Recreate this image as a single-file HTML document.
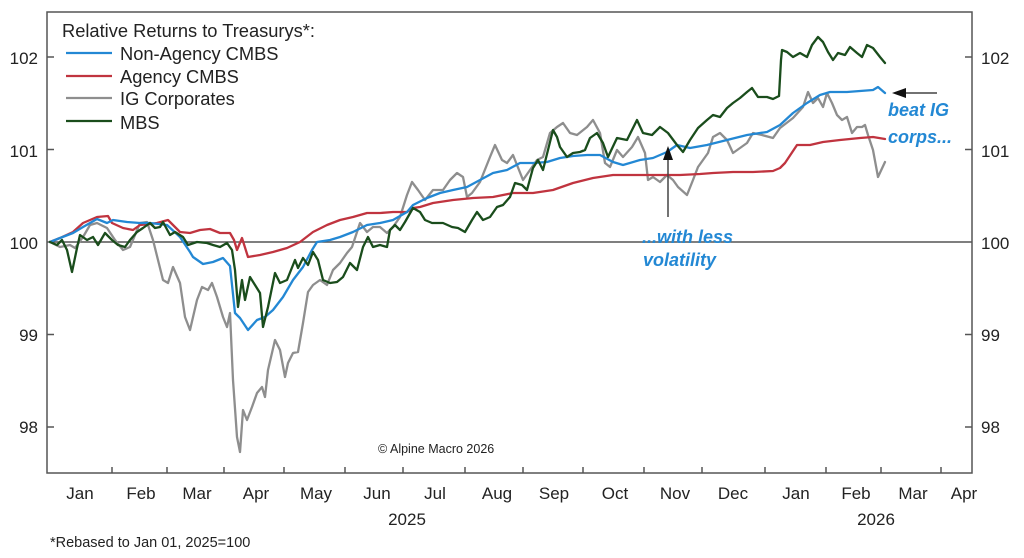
<!DOCTYPE html>
<html>
<head>
<meta charset="utf-8">
<style>
html,body{margin:0;padding:0;background:#fff;}
svg{display:block;font-family:"Liberation Sans",Arial,sans-serif;}
</style>
</head>
<body>
<svg width="1024" height="558" viewBox="0 0 1024 558" xmlns="http://www.w3.org/2000/svg">
<rect width="1024" height="558" fill="#fff"/>

<!-- zero line -->
<line x1="47" y1="242" x2="972" y2="242" stroke="#555" stroke-width="1.5"/>

<!-- series -->
<g fill="none" stroke-width="2.3" stroke-linejoin="round" stroke-linecap="round">
<polyline stroke="#8e8e8e" points="50,242 60,247 70,245 75,248 83,237 90,225 97,223 107,228 115,240 123,250 130,247 140,223 147,222 153,240 163,280 168,283 173,267 180,283 185,317 190,330 197,300 202,287 208,290 212,283 217,297 223,317 227,327 230,313 233,380 237,437 240,452 243,410 247,420 252,407 257,393 262,387 265,397 268,370 275,340 280,350 285,377 288,363 293,353 298,352 303,323 308,292 313,285 320,280 327,285 333,270 340,263 347,253 352,247 355,238 360,223 367,232 373,227 380,227 387,233 393,227 400,217 407,195 412,182 418,190 425,200 433,190 443,190 450,180 457,173 463,177 467,197 472,193 480,182 490,157 495,145 502,160 507,163 513,155 523,180 530,170 537,160 543,157 550,133 557,127 563,123 570,133 577,135 587,127 593,120 600,133 605,163 610,167 617,150 623,157 632,147 638,137 645,153 648,180 653,177 660,182 667,175 673,180 678,187 687,195 693,180 698,167 703,160 708,153 713,137 720,133 727,140 733,153 740,148 747,143 753,133 762,135 773,138 780,128 793,118 803,107 808,92 813,103 818,98 823,107 827,93 832,103 837,115 842,120 847,117 852,133 857,127 862,127 865,125 868,135 873,150 878,177 885,162"/>
<polyline stroke="#c0343f" points="50,242 60,238 73,232 83,223 90,220 97,217 108,216 112,223 123,228 133,230 140,225 150,224 157,223 168,220 173,225 180,232 190,233 200,230 210,229 220,233 230,233 234,240 237,250 242,238 248,257 260,255 273,252 287,248 300,242 313,232 327,225 340,220 353,217 367,213 380,213 393,212 407,212 413,208 420,207 433,203 453,200 473,198 493,197 513,193 533,193 553,190 573,183 593,178 613,175 633,175 653,175 680,175 700,174 713,173 733,172 753,172 773,171 780,168 785,163 797,145 810,145 823,142 840,140 860,138 873,137 885,139"/>
<polyline stroke="#2388d4" points="50,242 60,238 73,233 83,227 97,219 107,223 113,220 127,222 140,223 150,223 167,225 180,237 190,252 193,257 203,264 213,262 223,258 230,266 235,313 240,318 248,330 257,320 265,317 273,310 283,297 293,280 303,267 312,250 317,242 330,240 340,237 353,232 367,225 380,223 393,220 407,212 413,205 427,198 440,193 453,190 467,187 480,180 493,173 507,170 520,163 533,163 547,162 560,158 573,156 587,155 600,155 613,162 623,165 640,160 653,158 667,152 677,145 690,148 707,145 727,140 747,135 767,132 780,125 793,113 807,103 820,95 830,92 847,92 860,91 873,90 878,87 885,93"/>
<polyline stroke="#1a4d1c" points="50,242 57,245 62,240 67,250 72,272 77,248 80,235 87,240 93,237 98,245 105,233 112,240 118,245 125,247 130,240 137,232 143,228 150,223 155,228 160,227 163,222 170,235 175,232 183,237 188,245 197,242 207,243 213,245 220,247 227,243 232,250 235,270 238,307 242,280 245,300 250,277 255,285 260,293 263,327 268,307 275,273 280,283 287,280 295,260 298,268 303,258 308,265 313,252 318,260 323,280 330,283 337,282 343,277 350,263 357,270 363,247 368,237 373,247 380,245 387,247 390,230 395,225 400,230 405,222 413,208 420,212 425,220 432,223 443,223 452,227 458,228 465,232 472,220 477,212 483,220 490,217 497,207 503,205 510,197 515,183 522,185 527,190 533,168 538,160 543,170 548,150 553,130 557,137 560,147 567,157 573,153 580,152 585,150 590,138 597,133 603,143 608,157 617,138 627,140 637,120 643,133 652,135 660,127 668,133 677,145 683,152 690,140 698,128 707,120 713,115 720,117 727,108 733,103 740,98 747,92 752,88 758,97 767,97 773,99 779,96 781,60 782,50 787,52 793,57 800,53 807,57 812,45 818,37 823,42 828,52 833,60 838,53 845,55 850,47 857,53 862,57 867,45 873,48 880,57 885,63"/>
</g>

<!-- frame -->
<rect x="47" y="12" width="925" height="461" fill="none" stroke="#555" stroke-width="1.5"/>

<!-- y ticks -->
<g stroke="#555" stroke-width="1.5">
<line x1="47" y1="57" x2="54" y2="57"/><line x1="47" y1="149.5" x2="54" y2="149.5"/><line x1="47" y1="334.5" x2="54" y2="334.5"/><line x1="47" y1="427" x2="54" y2="427"/>
<line x1="965" y1="57" x2="972" y2="57"/><line x1="965" y1="149.5" x2="972" y2="149.5"/><line x1="965" y1="334.5" x2="972" y2="334.5"/><line x1="965" y1="427" x2="972" y2="427"/>
<!-- x ticks -->
<line x1="112" y1="473" x2="112" y2="467"/><line x1="167" y1="473" x2="167" y2="467"/><line x1="224" y1="473" x2="224" y2="467"/><line x1="284" y1="473" x2="284" y2="467"/><line x1="345" y1="473" x2="345" y2="467"/><line x1="403" y1="473" x2="403" y2="467"/><line x1="465" y1="473" x2="465" y2="467"/><line x1="523" y1="473" x2="523" y2="467"/><line x1="583" y1="473" x2="583" y2="467"/><line x1="644" y1="473" x2="644" y2="467"/><line x1="702" y1="473" x2="702" y2="467"/><line x1="765" y1="473" x2="765" y2="467"/><line x1="826" y1="473" x2="826" y2="467"/><line x1="881" y1="473" x2="881" y2="467"/><line x1="941" y1="473" x2="941" y2="467"/>
</g>

<!-- y labels -->
<g font-size="17" fill="#222">
<text x="38" y="64" text-anchor="end">102</text>
<text x="38" y="157" text-anchor="end">101</text>
<text x="38" y="249" text-anchor="end">100</text>
<text x="38" y="341" text-anchor="end">99</text>
<text x="38" y="433" text-anchor="end">98</text>
<text x="981" y="64">102</text>
<text x="981" y="157">101</text>
<text x="981" y="249">100</text>
<text x="981" y="341">99</text>
<text x="981" y="433">98</text>
</g>

<!-- x labels -->
<g font-size="17" fill="#222" text-anchor="middle">
<text x="80" y="499">Jan</text>
<text x="141" y="499">Feb</text>
<text x="197" y="499">Mar</text>
<text x="256" y="499">Apr</text>
<text x="316" y="499">May</text>
<text x="377" y="499">Jun</text>
<text x="435" y="499">Jul</text>
<text x="497" y="499">Aug</text>
<text x="554" y="499">Sep</text>
<text x="615" y="499">Oct</text>
<text x="675" y="499">Nov</text>
<text x="733" y="499">Dec</text>
<text x="796" y="499">Jan</text>
<text x="856" y="499">Feb</text>
<text x="913" y="499">Mar</text>
<text x="964" y="499">Apr</text>
<text x="407" y="525">2025</text>
<text x="876" y="525">2026</text>
</g>

<text x="50" y="547" font-size="14.5" fill="#222">*Rebased to Jan 01, 2025=100</text>
<text x="378" y="453" font-size="12.5" fill="#222">© Alpine Macro 2026</text>

<!-- legend -->
<g font-size="18.3" fill="#222">
<text x="62" y="37">Relative Returns to Treasurys*:</text>
<text x="120" y="60">Non-Agency CMBS</text>
<text x="120" y="83">Agency CMBS</text>
<text x="120" y="105">IG Corporates</text>
<text x="120" y="129">MBS</text>
</g>
<g stroke-width="2.3">
<line x1="66" y1="53" x2="112" y2="53" stroke="#2388d4"/>
<line x1="66" y1="76" x2="112" y2="76" stroke="#c0343f"/>
<line x1="66" y1="98" x2="112" y2="98" stroke="#8e8e8e"/>
<line x1="66" y1="121" x2="112" y2="121" stroke="#1a4d1c"/>
</g>

<!-- annotations -->
<line x1="668" y1="217" x2="668" y2="158" stroke="#444" stroke-width="1.5"/>
<polygon points="668,146 663,160 673,160" fill="#111"/>
<line x1="937" y1="93" x2="904" y2="93" stroke="#444" stroke-width="1.5"/>
<polygon points="892,93 906,88 906,98" fill="#111"/>
<g font-size="18" font-weight="bold" font-style="italic" fill="#2388d4">
<text x="642" y="243">...with less</text>
<text x="643" y="266">volatility</text>
<text x="888" y="116">beat IG</text>
<text x="888" y="143">corps...</text>
</g>
</svg>
</body>
</html>
